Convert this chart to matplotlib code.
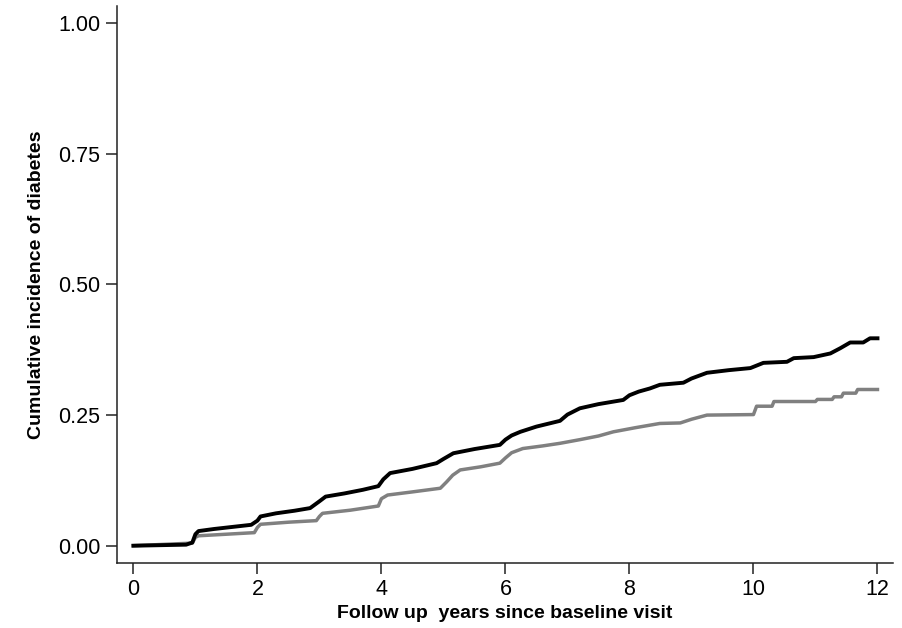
import matplotlib
matplotlib.use("Agg")
import matplotlib.pyplot as plt

# Black curve (higher incidence group)
black_t = [0, 0.85, 0.95, 1.0, 1.05, 1.3, 1.6, 1.9, 2.0, 2.05, 2.3, 2.6, 2.85, 3.0, 3.1,
           3.4, 3.7, 3.95, 4.03, 4.14, 4.5, 4.89, 5.0, 5.16, 5.5, 5.91, 6.0, 6.1, 6.24,
           6.5, 6.88, 7.0, 7.2, 7.5, 7.9, 8.0, 8.15, 8.33, 8.49, 8.87, 9.0, 9.25, 9.6,
           9.95, 10.16, 10.54, 10.65, 10.97, 11.24, 11.4, 11.56, 11.77, 11.88, 12.0]
black_v = [0, 0.002, 0.006, 0.022, 0.028, 0.032, 0.036, 0.040, 0.048, 0.056, 0.062, 0.067,
           0.072, 0.085, 0.094, 0.100, 0.107, 0.114, 0.127, 0.139, 0.147, 0.158, 0.166,
           0.177, 0.185, 0.193, 0.203, 0.211, 0.218, 0.228, 0.239, 0.251, 0.263, 0.271,
           0.279, 0.288, 0.295, 0.301, 0.308, 0.312, 0.320, 0.331, 0.336, 0.340, 0.350,
           0.352, 0.359, 0.361, 0.368, 0.378, 0.389, 0.389, 0.397, 0.397]

# Grey curve (lower incidence group)
grey_t = [0, 0.95, 1.0, 1.05, 1.5, 1.95, 2.0, 2.05, 2.5, 2.95, 3.0, 3.05, 3.5, 3.95, 4.0,
          4.1, 4.5, 4.95, 5.05, 5.15, 5.27, 5.6, 5.91, 6.0, 6.1, 6.28, 6.6, 6.88, 7.2, 7.5,
          7.74, 8.1, 8.49, 8.82, 9.0, 9.25, 10.0, 10.05, 10.3, 10.33, 11.0, 11.03, 11.27,
          11.3, 11.42, 11.45, 11.65, 11.68, 12.0]
grey_v = [0, 0.005, 0.016, 0.019, 0.022, 0.025, 0.035, 0.041, 0.045, 0.048, 0.056, 0.062,
          0.068, 0.076, 0.090, 0.097, 0.103, 0.110, 0.122, 0.135, 0.145, 0.151, 0.158,
          0.168, 0.178, 0.186, 0.191, 0.196, 0.203, 0.210, 0.218, 0.226, 0.234, 0.235,
          0.242, 0.250, 0.251, 0.267, 0.267, 0.276, 0.276, 0.280, 0.280, 0.285, 0.285,
          0.292, 0.292, 0.299, 0.299]

x_ticks = [0, 2, 4, 6, 8, 10, 12]
y_ticks = [0.0, 0.25, 0.5, 0.75, 1.0]
y_tick_labels = ["0.00", "0.25", "0.50", "0.75", "1.00"]

plt.rcParams['font.family'] = ['Liberation Sans', 'DejaVu Sans']

fig = plt.figure(figsize=(9.03, 6.28), dpi=100)
ax = fig.add_axes([0.1292, 0.104, 0.9889 - 0.1292, 0.9904 - 0.104])

ax.plot(grey_t, grey_v, color='#808080', lw=2.5, solid_joinstyle='round')
ax.plot(black_t, black_v, color='black', lw=2.8, solid_joinstyle='round')

ax.set_xlim(-0.27, 12.25)
ax.set_ylim(-0.0325, 1.033)
ax.set_xticks(x_ticks)
ax.set_xticklabels([str(t) for t in x_ticks])
ax.set_yticks(y_ticks)
ax.set_yticklabels(y_tick_labels)

for s in ['top', 'right']:
    ax.spines[s].set_visible(False)
for s in ['left', 'bottom']:
    ax.spines[s].set_color('#222222')
    ax.spines[s].set_linewidth(1.1)

ax.tick_params(axis='both', direction='out', length=8, width=1.1, color='#222222',
               labelsize=15.5, pad=4)

ax.set_xlabel("Follow up  years since baseline visit", fontsize=14, fontweight='bold',
              labelpad=3)
ax.set_ylabel("Cumulative incidence of diabetes", fontsize=14, fontweight='bold',
              labelpad=9)

fig.savefig("out.png", dpi=100)
